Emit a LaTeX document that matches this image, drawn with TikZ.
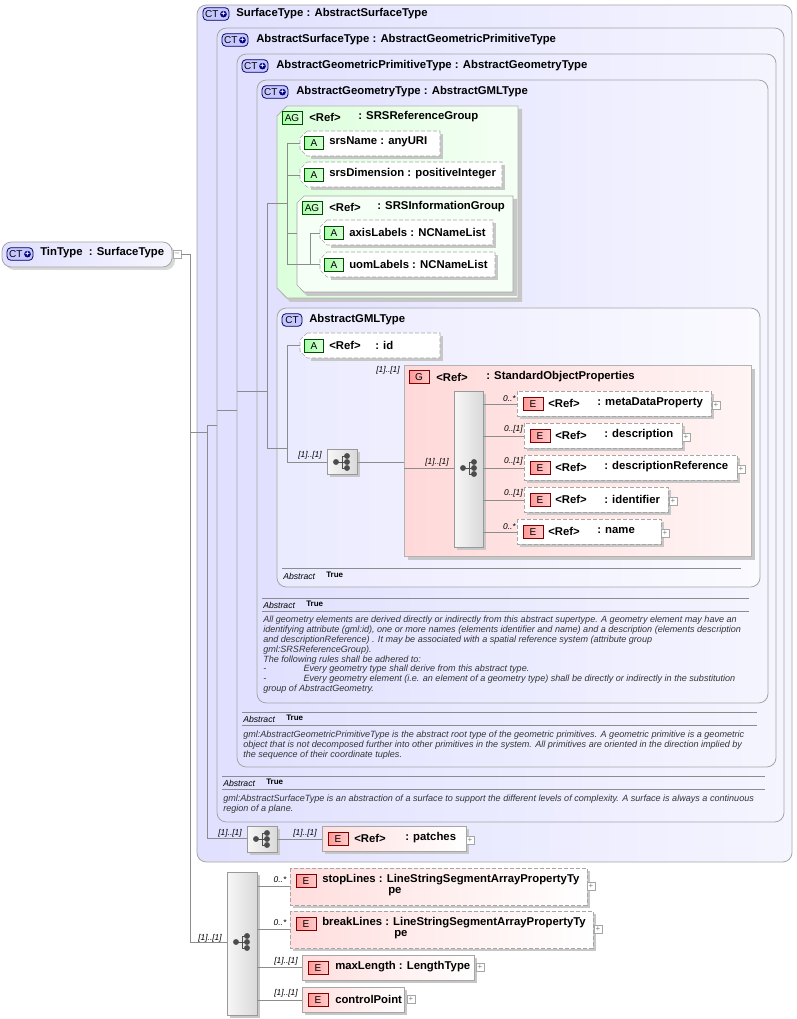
\documentclass[tikz,border=0pt]{standalone}
\usepackage{fontspec}
\setmainfont{Liberation Sans}
\begin{document}
\begin{tikzpicture}[x=0.75pt,y=-0.75pt,
 lab/.style={anchor=west,inner sep=0,font=\bfseries\fontsize{8.5}{10}\selectfont},
 card/.style={inner sep=0,font=\itshape\fontsize{6.3}{7}\selectfont},
 desc/.style={anchor=north west,inner sep=0,align=left,font=\itshape\fontsize{6.8}{7.35}\selectfont,text=black!80},
 ctbox/.style={draw=black!35,line width=0.6pt,rounded corners=7pt,left color=blue!12,right color=blue!4},
 agbox/.style={draw=black!30,line width=0.6pt,left color=green!14,right color=green!4},
 gbox/.style={draw=black!30,line width=0.6pt,left color=red!15,right color=red!4},
 ebox/.style={draw=black!35,line width=0.5pt,left color=red!13,right color=white},
 ebox2/.style={draw=black!35,line width=0.5pt,fill=white},
 abox/.style={draw=black!35,line width=0.5pt,fill=white},
 dsh/.style={dash pattern=on 3pt off 1.5pt},
 shd/.style={fill=black!22,draw=none},
 seqb/.style={draw=black!40,line width=0.5pt,left color=black!3,right color=black!15},
 con/.style={draw=black!45,line width=0.5pt},
 bct/.style={draw=blue!40!black,fill=blue!22,rounded corners=3pt,line width=0.6pt,inner sep=0,font=\fontsize{7.5}{8}\selectfont},
 be/.style={draw=red!50!black,left color=red!40,right color=red!20,line width=0.5pt,inner sep=0,font=\fontsize{7.5}{8}\selectfont},
 ba/.style={draw=green!30!black,left color=green!35,right color=green!15,line width=0.5pt,inner sep=0,font=\fontsize{7.5}{8}\selectfont},
 plusb/.style={draw=black!35,fill=white,line width=0.4pt,minimum size=6pt,inner sep=0,font=\fontsize{6}{6}\selectfont,text=black!50},
 ]
\useasboundingbox (0,0) rectangle (796,1019);
\fill[white] (0,0) rectangle (796,1019);
% macros
\newcommand\CTbadge[3]{\node[bct,minimum width=19.5pt,minimum height=9.5pt] (#1) at (#2,#3) {CT\,\tikz\node[circle,fill=blue!50!black,inner sep=0,minimum size=5pt,text=white,font=\bfseries\fontsize{6}{6}\selectfont]{+};};}
\newcommand\Ebadge[4]{\node[be,minimum width=15pt,minimum height=10pt] (#1) at (#2,#3) {#4};}
\newcommand\Abadge[4]{\node[ba,minimum width=14pt,minimum height=9.5pt] (#1) at (#2,#3) {#4};}
\newcommand\seqicon[3]{
 \draw[black!70,line width=0.7pt] (#2-6,#3)--(#2,#3) (#2,#3-6)--(#2,#3+6) (#2,#3-6)--(#2+5,#3-6) (#2,#3+6)--(#2+5,#3+6) (#2,#3)--(#2+5,#3);
 \fill[black!70] (#2-6,#3) circle (2.2pt) coordinate (#1) (#2+5,#3-6) circle (2.2pt) (#2+5,#3) circle (2.2pt) (#2+5,#3+6) circle (2.2pt);}
\newcommand\abh[3]{\fill[shd] (#1+8+3,#2+3)--(#3+3,#2+3)--(#3+3,#2+25+3)--(#1+8+3,#2+25+3)--cycle;
 \draw[abox,dsh] (#1+7,#2)--(#3,#2)--(#3,#2+25)--(#1+7,#2+25)--(#1,#2+18)--(#1,#2+7)--cycle;}
% ---- outer boxes
\draw[ctbox] (197,5) rectangle (792,862);
\draw[ctbox] (217,28) rectangle (784,822);
\draw[ctbox] (237,54) rectangle (776,767);
\draw[ctbox] (257,80) rectangle (768,703);
\CTbadge{b1}{216}{14} \node[lab] (t1) at (236,14) {SurfaceType : AbstractSurfaceType};
\CTbadge{b2}{235}{40} \node[lab] (t2) at (256,40) {AbstractSurfaceType : AbstractGeometricPrimitiveType};
\CTbadge{b3}{255}{66} \node[lab] (t3) at (276,66) {AbstractGeometricPrimitiveType : AbstractGeometryType};
\CTbadge{b4}{275}{92} \node[lab] (t4) at (296,92) {AbstractGeometryType : AbstractGMLType};
% ---- AG SRSReferenceGroup
\fill[shd] (290,109)--(522,109)--(522,302)--(290,302)--(281,293)--(281,119)--cycle;
\draw[agbox] (287,106)--(518,106)--(518,298)--(287,298)--(277,288)--(277,116)--cycle;
\node[ba,minimum width=15pt,minimum height=10pt] (bag1) at (292,118) {AG};
\node[lab] (tag1a) at (309,117) {<Ref>}; \node[lab] (tag1b) at (358,117) {: SRSReferenceGroup};
\abh{300}{131}{440} \Abadge{ba1}{314}{143}{A} \node[lab] (ta1) at (329,142) {srsName : anyURI};
\abh{300}{162}{502} \Abadge{ba2}{314}{175}{A} \node[lab] (ta2) at (329,174) {srsDimension : positiveInteger};
\fill[shd] (307,199)--(517,199)--(517,296)--(307,296)--(300,289)--(300,206)--cycle;
\draw[abox,fill=green!4] (304,196)--(513,196)--(513,292)--(304,292)--(297,285)--(297,203)--cycle;
\node[ba,minimum width=15pt,minimum height=10pt] (bag2) at (312,208) {AG};
\node[lab] (tag2a) at (329,207) {<Ref>}; \node[lab] (tag2b) at (377,207) {: SRSInformationGroup};
\abh{320}{220}{493} \Abadge{ba3}{334}{233}{A} \node[lab] (ta3) at (349,232) {axisLabels : NCNameList};
\abh{320}{252}{495} \Abadge{ba4}{334}{265}{A} \node[lab] (ta4) at (349,264) {uomLabels : NCNameList};
% ---- CT AbstractGMLType
\draw[ctbox,left color=blue!8,right color=blue!2] (277,308) rectangle (760,587);
\node[bct,minimum width=15pt,minimum height=9.5pt] (b5) at (292,320) {CT};
\node[lab] (t5) at (309,320) {AbstractGMLType};
\abh{300}{333}{440} \Abadge{ba5}{314}{346}{A} \node[lab] (ta5a) at (329,345) {<Ref>}; \node[lab] (ta5b) at (375,345) {: id};
% G group
\fill[shd] (408,369) rectangle (755,560);
\draw[gbox] (404,365) rectangle (751,556);
\Ebadge{bg}{419}{377}{G} \node[lab] (tg1) at (436,377) {<Ref>}; \node[lab] (tg2) at (486,377) {: StandardObjectProperties};
\fill[shd] (457,394) rectangle (486,550);
\draw[seqb] (454,391) rectangle (483,547);
\seqicon{s2}{469}{468}
\newcommand\elr[8]{% x1 y1 x2 badgex name
 \fill[shd] (#1+3,#2+3) rectangle (#3+3,#2+28);
 \draw[ebox2,dsh] (#1,#2) rectangle (#3,#2+25);
 \Ebadge{#5}{#4}{#2+13}{E}
 \node[lab] at (#4+15,#2+12) {<Ref>}; \node[lab] at (#4+64,#2+12) {: #6};
 \node[plusb] at (#7,#2+14) {+};
 \draw[con] (483,#2+13)--(#1,#2+13); \node[card,anchor=south east] at (#1-1,#2+11) {#8};}
\elr{517}{391}{711}{533}{e1}{metaDataProperty}{716}{0..*}
\elr{524}{423}{682}{540}{e2}{description}{686}{0..[1]}
\elr{524}{455}{737}{540}{e3}{descriptionReference}{741}{0..[1]}
\elr{524}{487}{668}{540}{e4}{identifier}{673}{0..[1]}
\elr{517}{519}{661}{533}{e5}{name}{665}{0..*}
\node[card] (c1) at (388,370) {[1]..[1]};
% GML seq
\fill[shd] (330,452) rectangle (360,477);
\draw[seqb] (327,449) rectangle (357,474);
\seqicon{s1}{342}{462}
\draw[con] (357,462)--(404,462) (404,468)--(454,468);
\node[card] at (310,455) {[1]..[1]}; \node[card] at (437,462) {[1]..[1]};
% GML abstract
\draw[black!45,line width=0.4pt] (282,568)--(741,568);
\node[lab,font=\itshape\fontsize{6.5}{7}\selectfont] (ab1) at (283,576) {Abstract};
\node[lab,font=\bfseries\fontsize{6}{7}\selectfont] at (326,575) {True};
% Geometry abstract
\newcommand\abhead[3]{\draw[black!45,line width=0.4pt] (#1,#2)--(#3,#2) (#1,#2+13)--(#3,#2+13);
 \node[lab,font=\itshape\fontsize{6.5}{7}\selectfont] at (#1+1,#2+7) {Abstract};
 \node[lab,font=\bfseries\fontsize{6}{7}\selectfont] at (#1+44,#2+6) {True};}
\abhead{262}{598}{749}
\node[desc] (d1) at (263,616) {All geometry elements are derived directly or indirectly from this abstract supertype. A geometry element may have an\\
identifying attribute (gml:id), one or more names (elements identifier and name) and a description (elements description\\
and descriptionReference) . It may be associated with a spatial reference system (attribute group\\
gml:SRSReferenceGroup).\\
The following rules shall be adhered to:\\
-\hspace{28pt}Every geometry type shall derive from this abstract type.\\
-\hspace{28pt}Every geometry element (i.e. an element of a geometry type) shall be directly or indirectly in the substitution\\
group of AbstractGeometry.};
\abhead{242}{712}{757}
\node[desc] (d2) at (243,731) {gml:AbstractGeometricPrimitiveType is the abstract root type of the geometric primitives. A geometric primitive is a geometric\\
object that is not decomposed further into other primitives in the system. All primitives are oriented in the direction implied by\\
the sequence of their coordinate tuples.};
\abhead{222}{776}{765}
\node[desc] (d3) at (223,795) {gml:AbstractSurfaceType is an abstraction of a surface to support the different levels of complexity. A surface is always a continuous\\
region of a plane.};
% patches
\fill[shd] (250,829) rectangle (280,855);
\draw[seqb] (247,826) rectangle (277,852);
\seqicon{s3}{262}{839}
\fill[shd] (325,829) rectangle (469,854);
\draw[ebox] (322,826) rectangle (466,851);
\Ebadge{ep}{338}{839}{E} \node[lab] at (354,838) {<Ref>}; \node[lab] at (405,838) {: patches};
\node[plusb] (pp) at (470,840) {+};
\draw[con] (277,839)--(322,839);
\node[card] at (230,833) {[1]..[1]}; \node[card] at (305,833) {[1]..[1]};
% ---- TinType
\fill[black!15,rounded corners=7pt] (5,245) rectangle (175,270);
\draw[ctbox] (2,242) rectangle (172,267);
\CTbadge{b0}{20}{254} \node[lab] (t0) at (40,253) {TinType\ \ : SurfaceType};
\node[plusb] (m0) at (177,254) {--};
% connectors
\draw[con] (181,254)--(190,254)--(190,942)--(227,942);
\draw[con] (190,432)--(207,432) (207,425)--(207,838)--(247,838) (207,425)--(217,425) (217,410)--(237,410);
\draw[con] (237,391)--(267,391) (267,203)--(267,448) (267,203)--(287,203) (267,448)--(287,448);
\draw[con] (287,143)--(287,264) (287,143)--(300,143) (287,175)--(300,175) (287,264)--(310,264);
\draw[con] (287,233)--(297,233);
\draw[con] (310,233)--(310,264) (310,233)--(320,233) (310,264)--(320,264);
\draw[con] (287,345)--(287,462)--(327,462) (287,345)--(300,345);
% ---- big sequence
\fill[shd] (230,875) rectangle (260,1018);
\draw[seqb] (227,872) rectangle (257,1015);
\seqicon{s4}{242}{942}
\node[card] at (210,938) {[1]..[1]};
\fill[shd] (293,871) rectangle (590,908);
\draw[ebox,dsh] (290,868) rectangle (587,905);
\Ebadge{es}{306}{881}{E} \node[lab] at (322,880) {stopLines : LineStringSegmentArrayPropertyTy}; \node[lab] at (388,892) {pe};
\node[plusb] at (591,886) {+};
\fill[shd] (293,914) rectangle (596,951);
\draw[ebox,dsh] (290,911) rectangle (593,948);
\Ebadge{eb}{306}{924}{E} \node[lab] at (322,923) {breakLines : LineStringSegmentArrayPropertyTy}; \node[lab] at (394,935) {pe};
\node[plusb] at (598,929) {+};
\fill[shd] (305,958) rectangle (477,983);
\draw[ebox] (302,955) rectangle (474,980);
\Ebadge{em}{318}{968}{E} \node[lab] at (335,967) {maxLength : LengthType};
\node[plusb] at (480,967) {+};
\fill[shd] (305,990) rectangle (407,1015);
\draw[ebox] (302,987) rectangle (404,1012);
\Ebadge{ec}{318}{1000}{E} \node[lab] at (335,999) {controlPoint};
\node[plusb] at (411,999) {+};
\draw[con] (257,886)--(290,886) (257,929)--(290,929) (257,967)--(302,967) (257,1000)--(302,1000);
\node[card] at (280,880) {0..*}; \node[card] at (280,923) {0..*};
\node[card] at (286,961) {[1]..[1]}; \node[card] at (286,993) {[1]..[1]};
\end{tikzpicture}
\end{document}
